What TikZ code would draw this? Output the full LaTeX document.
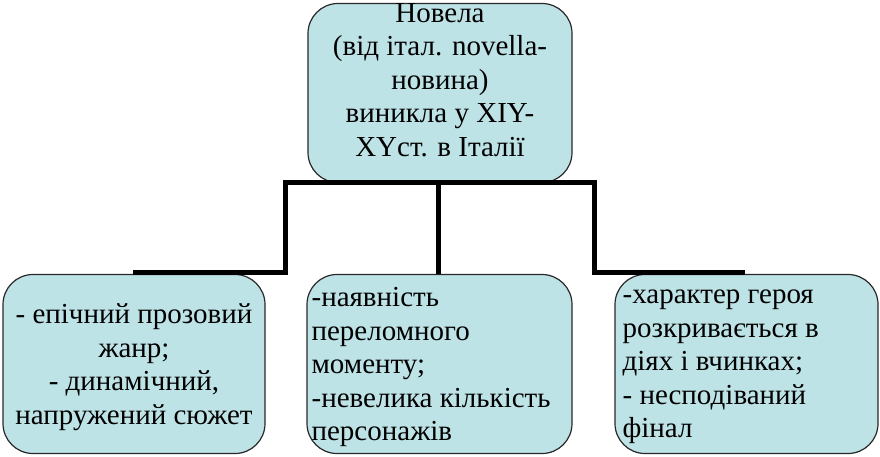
\documentclass[tikz,border=0pt]{standalone}
\usepackage{fontspec}
\setmainfont{Liberation Serif}
\definecolor{boxfill}{RGB}{190,227,230}
\definecolor{boxline}{RGB}{40,40,40}
\begin{document}
\begin{tikzpicture}[x=1pt,y=-1pt,
  box/.style={draw=boxline, line width=1.2pt, fill=boxfill, rounded corners=30pt, inner sep=0pt},
  txt/.style={font=\fontsize{29}{33.5}\selectfont, inner sep=0pt},
  conn/.style={draw=black, line width=5pt}]
\useasboundingbox (0,0) rectangle (880,456);
% top box
\node[box, minimum width=264pt, minimum height=179pt] (top) at (440,93) {};
\node[txt, align=center] (toptxt) at (440,80) {Новела\\(від італ. novella-\\новина)\\виникла у XIY-\\XYст. в Італії};
% bottom boxes
\node[box, minimum width=262pt, minimum height=179pt] (left) at (134,364) {};
\node[txt, align=center] (lefttxt) at ([yshift=-3pt]left.center) {- епічний прозовий\\жанр;\\- динамічний,\\напружений сюжет};
\node[box, minimum width=265pt, minimum height=179pt] (mid) at (439.5,364) {};
\node[txt, align=left, anchor=west] (midtxt) at ([xshift=5pt,yshift=-3pt]mid.west) {-наявність\\переломного\\моменту;\\-невелика кількість\\персонажів};
\node[box, minimum width=263pt, minimum height=179pt] (right) at (746.5,364) {};
\node[txt, align=left, anchor=west] (righttxt) at ([xshift=8pt,yshift=-3pt]right.west) {-характер героя\\розкривається в\\діях і вчинках;\\- несподіваний\\фінал};
% connectors
\coordinate (hl) at (285,182);
\coordinate (hr) at (594,182);
\coordinate (lend) at (133,272);
\coordinate (rend) at (745,272);
\draw[conn] (lend) -- (hl |- lend) -- (hl) -- (hr) -- (hr |- rend) -- (rend);
\draw[conn] (top.south) ++(-1.5,0) coordinate (tc) -- (tc |- mid.north);
\end{tikzpicture}
\end{document}
